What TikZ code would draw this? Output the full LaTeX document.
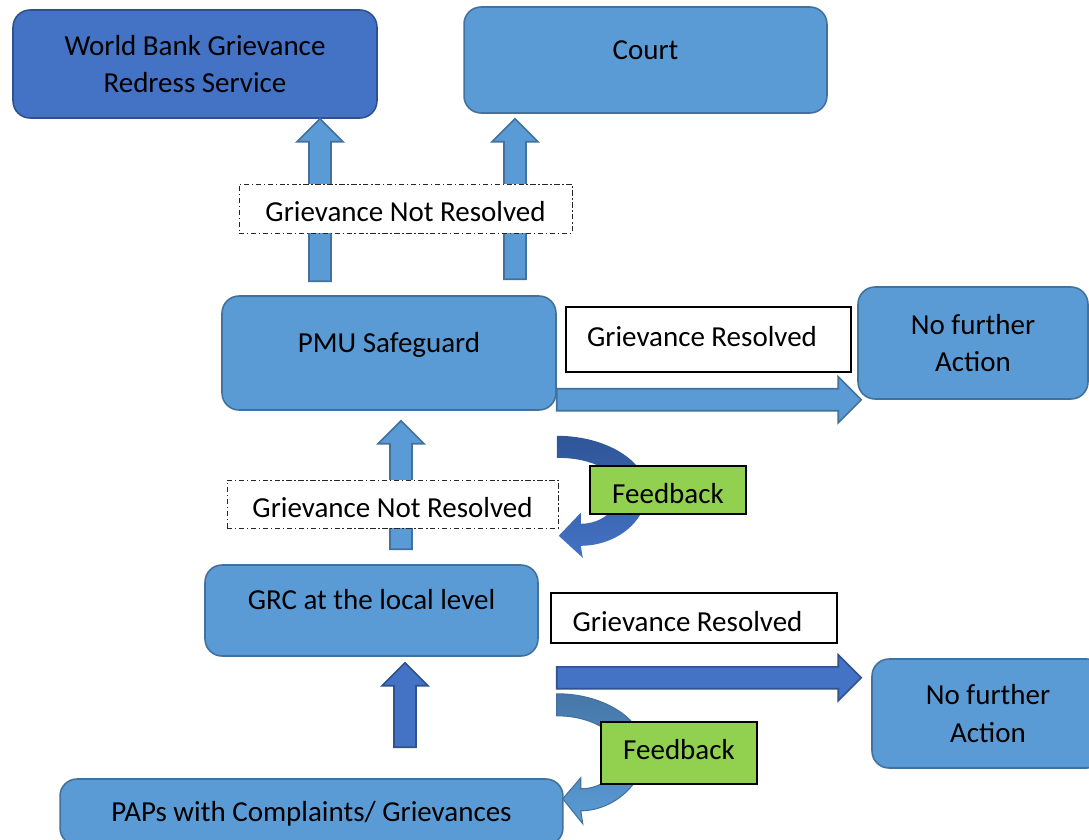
\documentclass[tikz,border=0pt]{standalone}
\usepackage{fontspec}
\setmainfont{Carlito}
\usetikzlibrary{calc}

\definecolor{boxblue}{HTML}{5B9BD5}
\definecolor{boxline}{HTML}{41719C}
\definecolor{darkblue}{HTML}{4472C4}
\definecolor{darkline}{HTML}{2F528F}
\definecolor{curvetop}{HTML}{2F5597}
\definecolor{curvesteel}{HTML}{4677A8}
\definecolor{fbgreen}{HTML}{92D050}

% block arrow from #2 (tail) to #3 (tip)
\newcommand{\blockarrow}[3]{%
  \draw[#1] let \p1=(#2), \p2=(#3),
      \n1={atan2(\y2-\y1,\x2-\x1)}, \n2={veclen(\x2-\x1,\y2-\y1)} in
    {[shift={(\p1)}, rotate=\n1]
      (0pt,-0.22cm) -- (\n2-0.46cm,-0.22cm) -- (\n2-0.46cm,-0.46cm)
      -- (\n2,0pt) -- (\n2-0.46cm,0.46cm) -- (\n2-0.46cm,0.22cm)
      -- (0pt,0.22cm) -- cycle};
}

\begin{document}
\begin{tikzpicture}[
    x=0.02cm, y=0.02cm,
    txt/.style={font=\fontsize{16.5}{21.3}\selectfont},
    box/.style={
        draw=boxline,
        fill=boxblue,
        line width=0.9pt,
        rounded corners=0.34cm,
        inner sep=0pt,
        align=center,
        txt
    },
    darkbox/.style={box, draw=darkline, fill=darkblue},
    oneline/.style={text height=11pt, text depth=3.5pt},
    raised/.style={text height=11pt, text depth=11.8pt},
    lowered/.style={text height=15pt, text depth=0pt},
    notebox/.style={
        draw=black!85,
        line width=0.5pt,
        dash pattern=on 3pt off 1.5pt on 0.8pt off 1.5pt,
        fill=white,
        inner sep=0pt,
        txt, lowered
    },
    resbox/.style={draw=black, line width=0.8pt, fill=white, inner sep=0pt, txt, oneline},
    fbbox/.style={resbox, fill=fbgreen},
    uparrow/.style={draw=boxline, fill=boxblue, line width=0.9pt},
    darkarrow/.style={draw=darkline, fill=darkblue, line width=0.9pt},
    feedback/.style={draw=none, line width=0pt}
]
\useasboundingbox (0,0) rectangle (1089,-839);

% Top row
\node[darkbox, minimum width=7.28cm, minimum height=2.16cm] (wb) at (195,-64)
    {World Bank Grievance\\Redress Service};
\node[box, raised, minimum width=7.26cm, minimum height=2.12cm] (court) at (645.5,-60) {Court};

% PMU level
\node[box, raised, minimum width=6.68cm, minimum height=2.28cm] (pmu) at (389,-353) {PMU Safeguard};
\node[box, minimum width=4.6cm, minimum height=2.24cm] (nfa1) at (973,-343) {No further\\Action};

% GRC level
\node[box, raised, minimum width=6.66cm, minimum height=1.82cm] (grc) at (371.5,-610.5)
    {GRC at the local level};
\node[box, minimum width=4.64cm, minimum height=2.18cm] (nfa2) at (988,-713.5) {No further\\Action};

% Bottom: complainants
\node[box, text height=12pt, text depth=1.5pt, minimum width=10.06cm, minimum height=1.32cm] (paps)
    at (311.5,-812) {PAPs with Complaints/ Grievances};

% === FRECCE ===

% up: PMU -> World Bank / Court
\coordinate (u1a) at ($(pmu.north)+(-69,14)$);
\coordinate (u1b) at (wb.south -| u1a);
\coordinate (u2a) at ($(pmu.north)+(126,16)$);
\coordinate (u2b) at ($(court.south -| u2a)+(0,-5)$);
\blockarrow{uparrow}{u1a}{u1b}
\blockarrow{uparrow}{u2a}{u2b}

% up: GRC -> PMU
\coordinate (u3a) at ($(grc.north)+(29.5,15)$);
\coordinate (u3b) at ($(pmu.south -| u3a)+(0,-10)$);
\blockarrow{uparrow}{u3a}{u3b}

% up: PAPs -> GRC
\coordinate (u4a) at ($(paps.north)+(93.5,31)$);
\coordinate (u4b) at ($(grc.south -| u4a)+(0,-6)$);
\blockarrow{darkarrow}{u4a}{u4b}

% resolved: PMU -> no further action
\coordinate (r1a) at ($(pmu.south east)+(0,11)$);
\coordinate (r1b) at ($(nfa1.west |- r1a)+(4,0)$);
\blockarrow{uparrow}{r1a}{r1b}

% resolved: GRC -> no further action
\coordinate (r2a) at ($(grc.south east)+(18,-21)$);
\coordinate (r2b) at ($(nfa2.west |- r2a)+(-10,0)$);
\blockarrow{darkarrow}{r2a}{r2b}

% feedback: PMU -> GRC
\draw[feedback, top color=curvetop, bottom color=darkblue, shift={(pmu.south east)}]
    (0,-25) .. controls (49,-25) and (90,-50) .. (90,-80)
    .. controls (90,-112) and (58,-135) .. (24,-135)
    -- (26,-147) -- (2,-125) -- (24,-102) -- (24,-113)
    .. controls (46,-113) and (62,-98) .. (62,-80)
    .. controls (62,-61) and (36,-47) .. (0,-47) -- cycle;

% feedback: GRC -> PAPs
\draw[feedback, draw=boxline, line width=0.6pt, top color=curvesteel, bottom color=boxblue, shift={(r2a)}]
    (0,-16) .. controls (49,-16) and (88,-43) .. (88,-74)
    .. controls (88,-106) and (56,-133) .. (24,-133)
    -- (26,-146) -- (6,-121) -- (24,-100) -- (24,-111)
    .. controls (47,-111) and (62,-96) .. (62,-74)
    .. controls (62,-54) and (34,-38) .. (0,-38) -- cycle;

% === LABELS ===
\node[notebox, minimum width=6.66cm, minimum height=0.98cm] (nr1) at (405.5,-208.5) {Grievance Not Resolved};
\node[notebox, minimum width=6.62cm, minimum height=0.96cm] (nr2) at (392.5,-504) {Grievance Not Resolved};
\node[resbox, minimum width=5.7cm, minimum height=1.3cm] (gr1) at (708.5,-339.5)
    {Grievance Resolved\kern0.26cm};
\node[resbox, lowered, minimum width=5.72cm, minimum height=1.0cm] (gr2) at (694,-618)
    {Grievance Resolved\kern0.26cm};
\node[fbbox, lowered, minimum width=3.12cm, minimum height=0.96cm] (fb1) at (668,-490) {Feedback};
\node[fbbox, minimum width=3.12cm, minimum height=1.24cm] (fb2) at (679,-753) {Feedback};

\end{tikzpicture}
\end{document}
